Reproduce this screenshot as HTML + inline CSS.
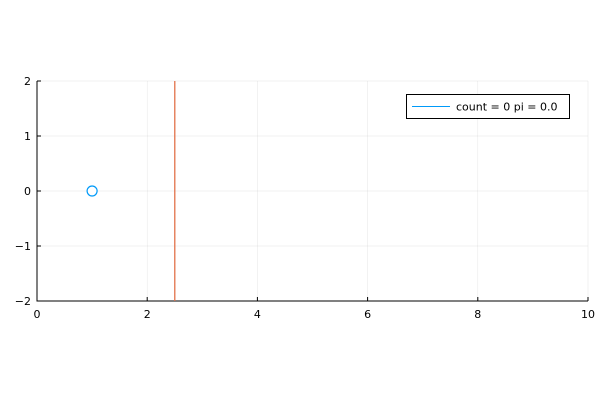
<!DOCTYPE html>
<html><head><meta charset="utf-8"><style>
body{margin:0;background:#fff}
svg text{font-family:"DejaVu Sans","Liberation Sans",sans-serif;font-size:11px;fill:#000}
</style></head><body>
<svg id="chart" width="600" height="400"></svg>
<script>
const xTicks=[0,2,4,6,8,10];
const yTicks=[-2,-1,0,1,2];
const pointX=[1];
const pointY=[0];
const vlineX=[2.5];
const legendLabel="count = 0 pi = 0.0";
const NS="http://www.w3.org/2000/svg";
const svg=document.getElementById('chart');
const L=37,R=588,T=81,B=301;
const sx=v=>L+(v-0)/(10-0)*(R-L);
const sy=v=>B-(v+2)/4*(B-T);
function mk(t,a,txt){const e=document.createElementNS(NS,t);for(const k in a)e.setAttribute(k,a[k]);if(txt!==undefined)e.textContent=txt;svg.appendChild(e);return e;}
xTicks.forEach(v=>{
const g=mk('line',{x1:sx(v),x2:sx(v),y1:T,y2:B,stroke:'#000','stroke-opacity':0.1,'stroke-width':0.5});


const tk=mk('line',{x1:sx(v),x2:sx(v),y1:B,y2:B-4,stroke:'#000'});


const t=mk('text',{x:sx(v),y:B+17,'text-anchor':'middle'},String(v));


});
yTicks.forEach(v=>{
const g=mk('line',{x1:L,x2:R,y1:sy(v),y2:sy(v),stroke:'#000','stroke-opacity':0.1,'stroke-width':0.5});


const tk=mk('line',{x1:L,x2:L+4,y1:sy(v),y2:sy(v),stroke:'#000'});


const t=mk('text',{x:L-6,y:sy(v)+4,'text-anchor':'end'},(v<0?'\u2212'+(-v):String(v)));


});
const ax=mk('path',{d:`M${L},${T}V${B}H${R}`,fill:'none',stroke:'#000','stroke-width':1});


vlineX.forEach(v=>{
const l=mk('line',{x1:sx(v),x2:sx(v),y1:T,y2:B,stroke:'#e26f46','stroke-width':1.5,'stroke-opacity':0.85});


});
pointX.forEach((v,i)=>{
const c=mk('circle',{cx:sx(v),cy:sy(pointY[i]),r:5,fill:'#fff',stroke:'#009af9','stroke-width':1.2});


});
const lb=mk('rect',{x:406.5,y:94.5,width:163,height:24,fill:'#fff',stroke:'#000','stroke-width':1});


const ll=mk('line',{x1:412,x2:450,y1:106.5,y2:106.5,stroke:'#009af9','stroke-width':1});


const lt=mk('text',{x:456,y:110.5},legendLabel);


</script>
</body></html>
